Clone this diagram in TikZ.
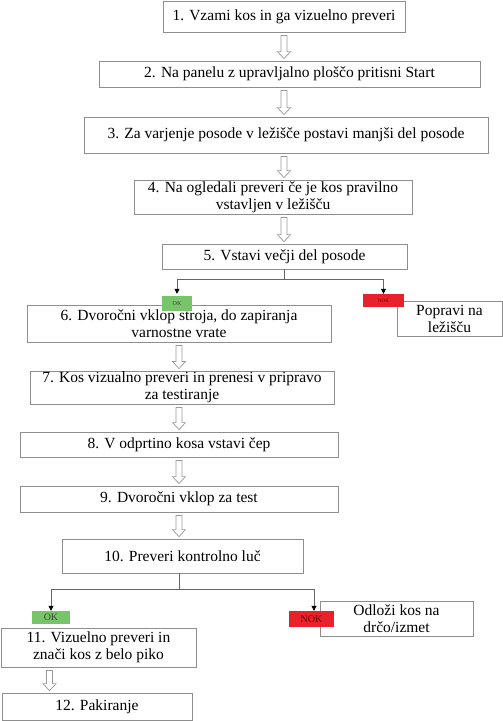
\documentclass[tikz,border=0pt]{standalone}
\usepackage{fontspec}
\setmainfont{Liberation Serif}
\usepackage{xcolor}
\usetikzlibrary{arrows.meta,calc}

\definecolor{okgreen}{HTML}{77C46A}
\definecolor{nokred}{HTML}{E8222B}
\definecolor{frame}{HTML}{8E8E8E}

% hollow block arrow going straight down from #1 to the height of #2
\newcommand{\hollowarrow}[2]{%
  \draw[hollow] let \p1=(#1), \p2=(#2) in
    (\x1-3pt,\y1-3pt) -- (\x1-3pt,\y2+9pt) -- (\x1-6.5pt,\y2+9pt) -- (\x1,\y2+2pt)
    -- (\x1+6.5pt,\y2+9pt) -- (\x1+3pt,\y2+9pt) -- (\x1+3pt,\y1-3pt) -- cycle;}

\tikzset{
  box/.style={draw=frame, line width=0.8pt, fill=white, align=center, inner sep=1pt,
    font=\fontsize{15.5}{17}\selectfont},
  hollow/.style={draw=frame!90, line width=0.7pt, fill=white},
  branch/.style={draw=black!60, line width=0.8pt},
  tip/.style={-{Triangle[length=5pt,width=5pt,black]}},
  okflag/.style={fill=okgreen, inner sep=0pt, text=black!75},
  nokflag/.style={fill=nokred, inner sep=0pt, text=red!45!black},
}

\begin{document}
\begin{tikzpicture}[x=1pt, y=-1pt]
\useasboundingbox (0,0) rectangle (503,721);

\node[box, minimum width=242, minimum height=31] (b1) at (284,16.5) {1. Vzami kos in ga vizuelno preveri};
\node[box, minimum width=381, minimum height=26] (b2) at (289.5,74) {2. Na panelu z upravljalno ploščo pritisni Start};
\node[box, minimum width=404, minimum height=36] (b3) at (286,135) {3. Za varjenje posode v ležišče postavi manjši del posode};
\node[box, minimum width=278, minimum height=34] (b4) at (273,197) {4. Na ogledali preveri če je kos pravilno\\vstavljen v ležišču};
\node[box, minimum width=245, minimum height=25] (b5) at (284.5,256.5) {5. Vstavi večji del posode};
\node[box, minimum width=304, minimum height=37] (b6) at (179,323.5) {6. Dvoročni vklop stroja, do zapiranja\\varnostne vrate};
\node[box, minimum width=105, minimum height=35] (fix) at (449.5,318.5) {Popravi na\\ležišču};
\node[box, minimum width=304, minimum height=33] (b7) at (182,387.5) {7. Kos vizualno preveri in prenesi v pripravo\\za testiranje};
\node[box, minimum width=318, minimum height=25] (b8) at (179,444.5) {8. V odprtino kosa vstavi čep};
\node[box, minimum width=318, minimum height=26] (b9) at (179,499) {9. Dvoročni vklop za test};
\node[box, minimum width=241, minimum height=34] (b10) at (182.5,556) {10. Preveri kontrolno luč};
\node[box, minimum width=153, minimum height=35] (drop) at (396.5,618.5) {Odloži kos na\\drčo/izmet};
\node[box, minimum width=195, minimum height=39] (b11) at (98.5,647.5) {11. Vizuelno preveri in\\znači kos z belo piko};
\node[box, minimum width=190, minimum height=27] (b12) at (97,706.5) {12. Pakiranje};

% flags
\node[okflag, minimum width=30, minimum height=15, font=\fontsize{6}{6}\selectfont] (ok1) at (177,303.5) {OK};
\node[nokflag, minimum width=41, minimum height=13, font=\fontsize{5}{5}\selectfont] (nok1) at (383.5,300.5) {NOK};
\node[okflag, minimum width=38, minimum height=13, font=\fontsize{10}{10}\selectfont] (ok2) at (51,617.5) {OK};
\node[nokflag, minimum width=45, minimum height=16, font=\fontsize{10}{10}\selectfont] (nok2) at (311.5,619) {NOK};

% main flow
\hollowarrow{b1.south}{b2.north};
\hollowarrow{b2.south -| b1.south}{b3.north};
\hollowarrow{b3.south -| b1.south}{b4.north};
\hollowarrow{b4.south -| b1.south}{b5.north};
\hollowarrow{b6.south}{b7.north};
\hollowarrow{b7.south -| b6.south}{b8.north};
\hollowarrow{b8.south -| b6.south}{b9.north};
\hollowarrow{b9.south -| b6.south}{b10.north};
\hollowarrow{$(b11.south west)!0.25!(b11.south east)$}{b12.north};

% decisions
\draw[branch] (b5.south -| b1.south) -- ++(0,10) coordinate (j1);
\draw[branch, tip] (j1) -| ($(ok1.north)+(0,-2)$);
\draw[branch, tip] (j1) -| (nok1.north);
\draw[branch] (b10.south -| b6.south) -- ++(0,16) coordinate (j2);
\draw[branch, tip] (j2) -| (ok2.north);
\draw[branch, tip] (j2) -| ($(nok2.north)+(2.5,0)$);
\end{tikzpicture}
\end{document}
